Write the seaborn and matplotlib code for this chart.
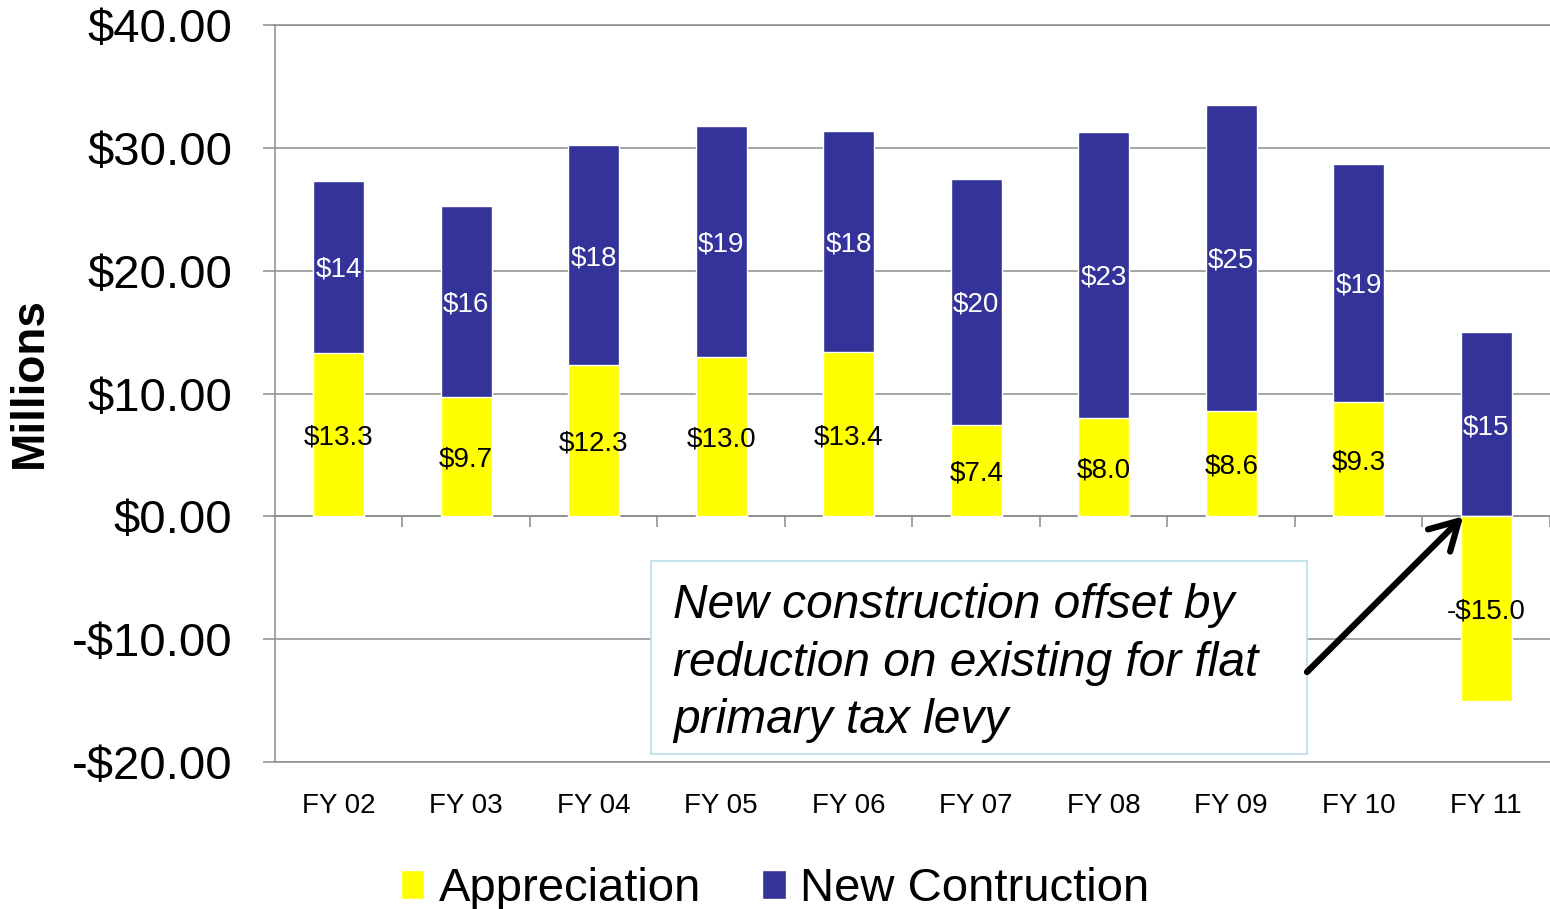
import numpy as np
import pandas as pd
import matplotlib
matplotlib.use('Agg')
import matplotlib.pyplot as plt
import seaborn as sns
from matplotlib.patches import Patch, Rectangle
from matplotlib.ticker import FuncFormatter

# data (millions)
years = ['FY 02', 'FY 03', 'FY 04', 'FY 05', 'FY 06', 'FY 07', 'FY 08', 'FY 09', 'FY 10', 'FY 11']
appreciation = [13.3, 9.7, 12.3, 13.0, 13.4, 7.4, 8.0, 8.6, 9.3, -15.0]
new_construction = [14.0, 15.6, 17.9, 18.8, 18.0, 20.1, 23.3, 24.9, 19.4, 15.0]

yellow = '#FFFF00'
navy = '#333399'
gray = '#8c8c8c'

sns.set_style('white')
plt.rcParams['font.family'] = ['Liberation Sans', 'DejaVu Sans']
plt.rcParams['text.color'] = 'black'
plt.rcParams['axes.labelcolor'] = 'black'
plt.rcParams['xtick.color'] = 'black'
plt.rcParams['ytick.color'] = 'black'

df = pd.DataFrame({'year': years, 'app': appreciation, 'new': new_construction})
df['base'] = df['app'].clip(lower=0)  # navy segment starts on top of positive appreciation
df['top'] = df['base'] + df['new']

fig, ax = plt.subplots(figsize=(15.5, 9.09), dpi=100)
fig.subplots_adjust(left=0.1774, right=1.0, top=0.9725, bottom=0.1617)

# stacked bars: full navy height first, yellow appreciation drawn over it
sns.barplot(data=df, x='year', y='top', color=navy, saturation=1, width=0.4,
            errorbar=None, ax=ax, zorder=2)
sns.barplot(data=df, x='year', y='app', color=yellow, saturation=1, width=0.4,
            errorbar=None, ax=ax, zorder=3)

# value labels
for i, row in df.iterrows():
    ax.text(i, row['base'] + row['new'] / 2, f"${row['new']:.0f}", color='white',
            ha='center', va='center_baseline', fontsize=20, zorder=4)
    a = row['app']
    lab = f"${a:.1f}" if a >= 0 else f"-${abs(a):.1f}"
    ax.text(i, a / 2, lab, color='black', ha='center', va='center_baseline', fontsize=20, zorder=4)

# axes styling
ax.set_ylim(-20, 40)
ax.set_xlim(-0.5, len(years) - 0.5)
ax.set_yticks(range(-20, 41, 10))
ax.yaxis.set_major_formatter(FuncFormatter(lambda v, p: f"-${abs(v):.2f}" if v < 0 else f"${v:.2f}"))
ax.yaxis.grid(True, color=gray, lw=1.1)
ax.set_axisbelow(True)
for s in ['top', 'bottom', 'left']:
    ax.spines[s].set_color(gray)
    ax.spines[s].set_linewidth(1.1)
ax.spines['right'].set_visible(False)
ax.tick_params(axis='y', length=8.6, width=1.1, color=gray, labelcolor='black', pad=22,
               labelsize=34, left=True)
ax.tick_params(axis='x', length=0, pad=22, labelsize=20, labelcolor='black')
ax.set_xlabel('')
ax.set_ylabel('Millions', fontsize=33, fontweight='bold', color='black')
ax.yaxis.set_label_coords(-0.175, 0.515)

# category axis crossing at zero with ticks between categories
sec = ax.secondary_xaxis(0, transform=ax.transData)
sec.set_xticks(np.arange(0.5, len(years), 1))
sec.tick_params(length=8, width=1.1, color=gray, labelbottom=False)
sec.spines['bottom'].set_color(gray)
sec.spines['bottom'].set_linewidth(1.1)

# annotation box + arrow
ax.add_patch(Rectangle((0.42, 0.1705), 0.4232, 0.2123, transform=fig.transFigure,
                       facecolor='white', edgecolor='#b7dde8', lw=1.2, clip_on=False, zorder=5))
ax.text(0.4342, 0.2705, "New construction offset by\nreduction on existing for flat\nprimary tax levy",
        transform=fig.transFigure, fontsize=34.5, style='italic', ha='left', va='center',
        linespacing=1.36, color='black', zorder=6)
ax.annotate('', xy=(8.82, 0), xycoords='data', xytext=(0.8432, 0.2607), textcoords='figure fraction',
            arrowprops=dict(arrowstyle='->,head_length=0.8,head_width=0.45', lw=4.5, color='black',
                            mutation_scale=25, shrinkA=0, shrinkB=0),
            annotation_clip=False, zorder=7)

handles = [Patch(facecolor=yellow, label='Appreciation'), Patch(facecolor=navy, label='New Contruction')]
fig.legend(handles=handles, loc='center', bbox_to_anchor=(0.5, 0.022), ncol=2, frameon=False,
           fontsize=34, handlelength=0.5, handleheight=0.55, handletextpad=0.3, columnspacing=1.3)

fig.savefig('out.png', dpi=100)
